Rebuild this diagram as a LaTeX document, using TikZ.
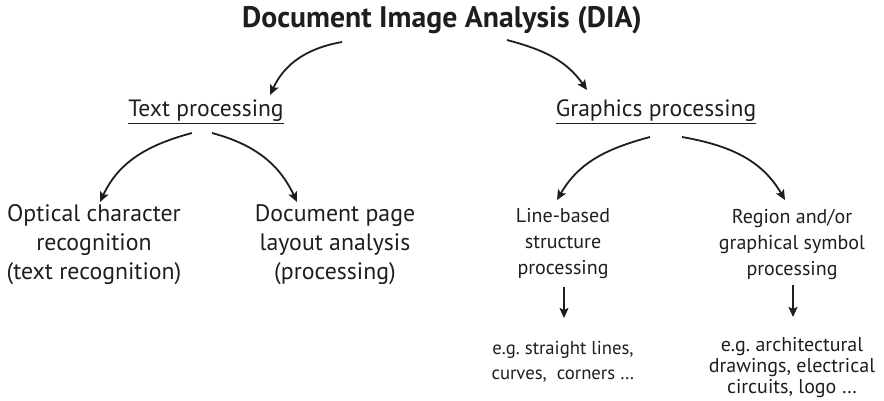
\documentclass[tikz,border=0pt]{standalone}
\usepackage{fontspec}
\setmainfont{PT Sans}
\usetikzlibrary{arrows.meta,calc}
\definecolor{ink}{HTML}{1E1E1E}
\frenchspacing
\tikzset{
  lbl/.style={inner sep=0pt, text=ink, align=center},
  conn/.style={draw=ink, line width=1.8pt,
    -{Stealth[length=10pt,width=9pt,inset=2pt]}}
}
\begin{document}
\begin{tikzpicture}[x=1pt,y=1pt]
\useasboundingbox (0,0) rectangle (884,-400);
% headings
\node[lbl, font=\fontsize{29.7}{34}\selectfont\bfseries] (title) at (442,-20) {Document Image Analysis (DIA)};
\node[lbl, font=\fontsize{23.6}{28}\selectfont] (textp) at (206,-112) {\underline{Text processing}};
\node[lbl, font=\fontsize{23.6}{28}\selectfont] (graphp) at (656,-112) {\underline{Graphics processing}};
% text branch
\node[lbl, font=\fontsize{23.8}{29}\selectfont] (ocr) at (94,-245) {Optical character\\recognition\\(text recognition)};
\node[lbl, font=\fontsize{23.8}{29}\selectfont] (dpl) at (335,-245) {Document page\\layout analysis\\(processing)};
% graphics branch
\node[lbl, font=\fontsize{20}{26}\selectfont] (lbs) at (563,-244) {Line-based\\structure\\processing};
\node[lbl, font=\fontsize{20}{26}\selectfont] (rgs) at (792,-244) {Region and/or\\graphical symbol\\processing};
\node[lbl, font=\fontsize{18.7}{25}\selectfont] (ex1) at (563,-362) {e.g.\ straight lines,\\curves,\ \ corners \dots};
\node[lbl, font=\fontsize{20}{21}\selectfont] (ex2) at (792,-368) {e.g.\ architectural\\drawings, electrical\\circuits, logo \dots};
% connectors
\draw[conn] ($(title)+(-100,-22)$) to[out=190,in=65] ($(textp)+(64,17)$);
\draw[conn] ($(title)+(65,-20)$) to[out=-15,in=125] ($(graphp)+(-69,22)$);
\draw[conn] ($(textp)+(-14,-21)$) to[out=195,in=65] ($(ocr)+(6,43)$);
\draw[conn] ($(textp)+(6,-21)$) to[out=-15,in=115] ($(dpl)+(-38,43)$);
\draw[conn] ($(graphp)+(-6,-25)$) to[out=195,in=60] ($(lbs)+(-6,44)$);
\draw[conn] ($(graphp)+(26,-25)$) to[out=-10,in=120] ($(rgs)+(-7,44)$);
\draw[conn] ($(lbs)+(1,-43)$) -- ($(ex1)+(1,44)$);
\draw[conn] ($(rgs)+(1,-41)$) -- ($(ex2)+(1,51)$);
\end{tikzpicture}
\end{document}
